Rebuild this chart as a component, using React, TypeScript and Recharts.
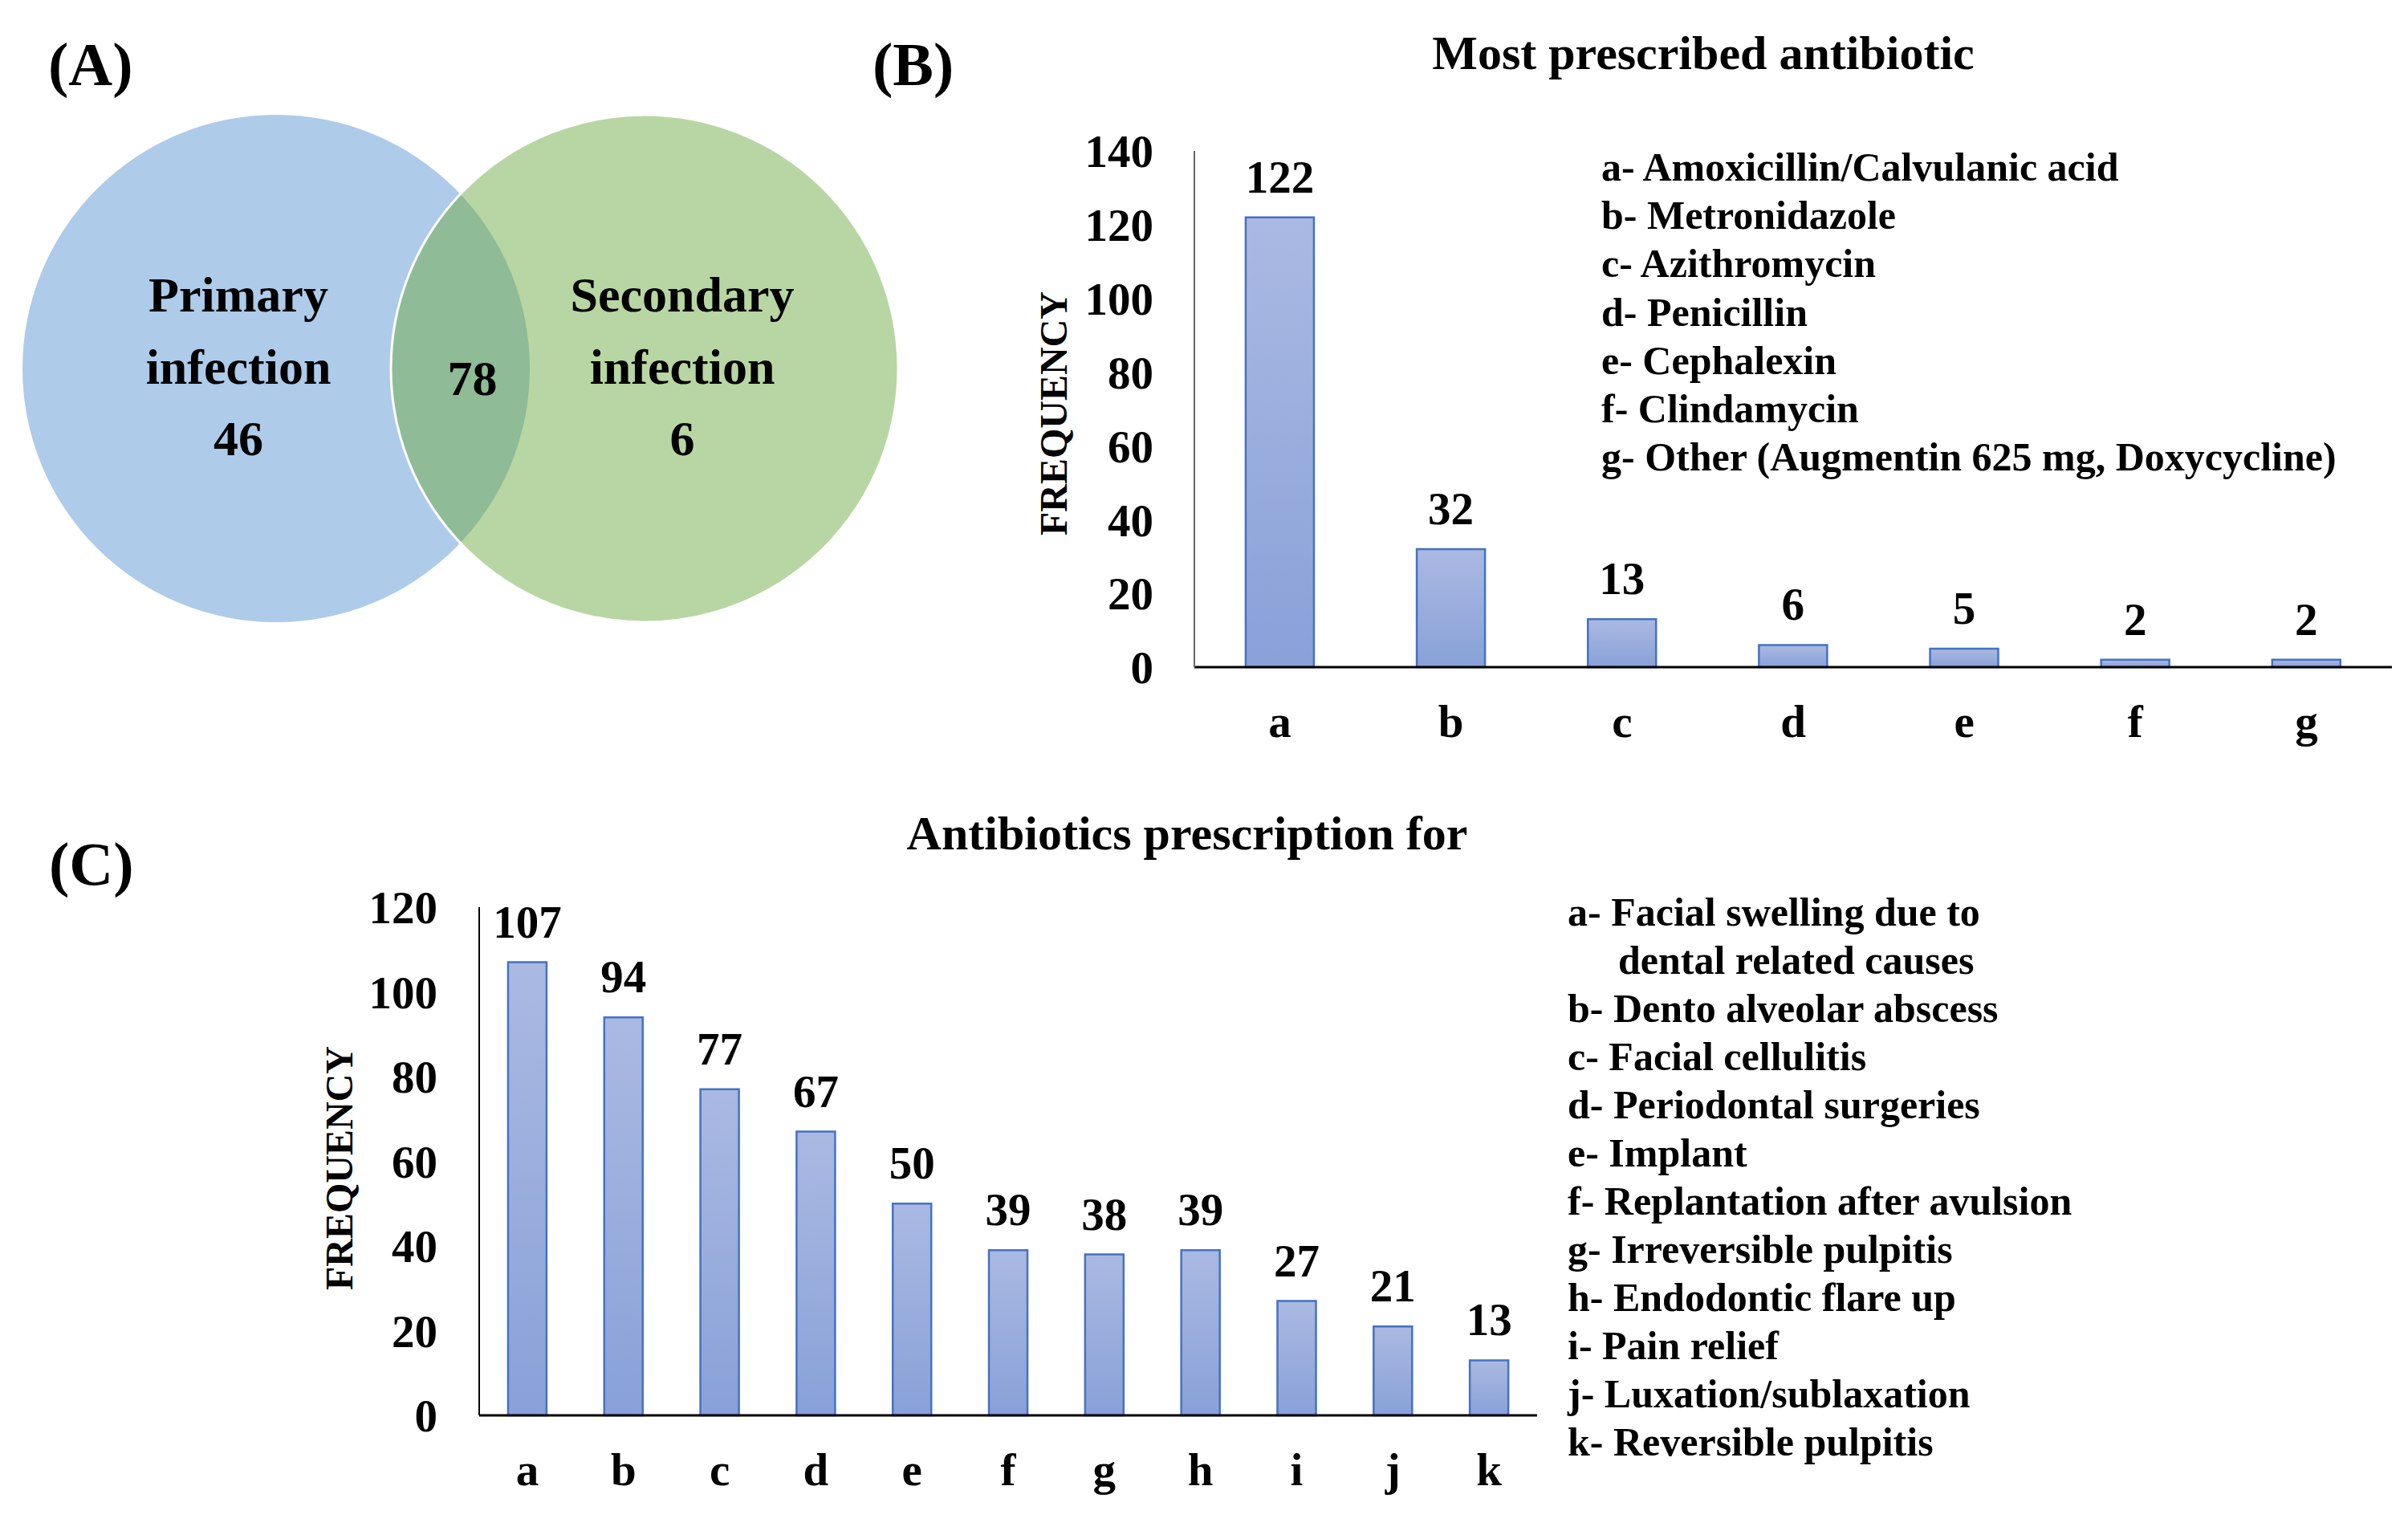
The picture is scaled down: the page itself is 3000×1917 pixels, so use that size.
import React from 'react';
import { BarChart, Bar, XAxis, YAxis, LabelList, ScatterChart, Scatter } from 'recharts';

const FONT = '"Liberation Serif", "Times New Roman", Times, serif';

// ---- Panel A data (Venn) ----
const vennSetNames: string[][] = [['Primary', 'infection'], ['Secondary', 'infection']];
const vennOnlyCounts = [46, 6];
const vennOverlapCount = 78;

// ---- Panel B data ----
const antibioticCats = ['a', 'b', 'c', 'd', 'e', 'f', 'g'];
const antibioticCounts = [122, 32, 13, 6, 5, 2, 2];
const antibioticNames = [
  'Amoxicillin/Calvulanic acid',
  'Metronidazole',
  'Azithromycin',
  'Penicillin',
  'Cephalexin',
  'Clindamycin',
  'Other (Augmentin 625 mg, Doxycycline)',
];
const antibioticTicks = [0, 20, 40, 60, 80, 100, 120, 140];

// ---- Panel C data ----
const reasonCats = ['a', 'b', 'c', 'd', 'e', 'f', 'g', 'h', 'i', 'j', 'k'];
const reasonCounts = [107, 94, 77, 67, 50, 39, 38, 39, 27, 21, 13];
const reasonNames = [
  'Facial swelling due to\ndental related causes',
  'Dento alveolar abscess',
  'Facial cellulitis',
  'Periodontal surgeries',
  'Implant',
  'Replantation after avulsion',
  'Irreversible pulpitis',
  'Endodontic flare up',
  'Pain relief',
  'Luxation/sublaxation',
  'Reversible pulpitis',
];
const reasonTicks = [0, 20, 40, 60, 80, 100, 120];

const antibioticData = antibioticCats.map((c, i) => ({ cat: c, value: antibioticCounts[i] }));
const reasonData = reasonCats.map((c, i) => ({ cat: c, value: reasonCounts[i] }));

// Venn layout (pixels in the venn chart)
const VENN_W = 1150;
const VENN_H = 800;
const VENN_R = 316;
const VENN_CX = [344, 803];
const VENN_CY = 459;
const VENN_TEXT_DX = [-47, 47];
const vennData = vennSetNames.map((n, i) => ({ x: VENN_CX[i], y: VENN_CY, names: n, count: vennOnlyCounts[i], idx: i }));

const BLUE = '#AECBE9';
const GREEN = '#B8D6A3';
const LENS = '#8FBB96';

const VennShape = (props: any) => {
  const { cx, cy, payload } = props;
  const i = payload.idx;
  const tx = cx + VENN_TEXT_DX[i];
  const textProps = { fontFamily: FONT, fontWeight: 700, fontSize: 62, fill: '#000', textAnchor: 'middle' as const };
  if (i === 0) {
    return (
      <g>
        <defs>
          <clipPath id="vennClipA">
            <circle cx={cx} cy={cy} r={VENN_R} />
          </clipPath>
        </defs>
        <circle cx={cx} cy={cy} r={VENN_R} fill={BLUE} />
        <text x={tx} y={cy - 71} {...textProps}>{payload.names[0]}</text>
        <text x={tx} y={cy + 19} {...textProps}>{payload.names[1]}</text>
        <text x={tx} y={cy + 108} {...textProps}>{payload.count}</text>
      </g>
    );
  }
  const midX = (VENN_CX[0] + VENN_CX[1]) / 2;
  return (
    <g>
      <circle cx={cx} cy={cy} r={VENN_R} fill={GREEN} />
      <circle cx={cx} cy={cy} r={VENN_R} fill={LENS} clipPath="url(#vennClipA)" />
      <circle cx={cx} cy={cy} r={VENN_R} fill="none" stroke="#fff" strokeWidth={3} />
      <text x={midX + 15} y={cy + 33} {...textProps}>{vennOverlapCount}</text>
      <text x={tx} y={cy - 71} {...textProps}>{payload.names[0]}</text>
      <text x={tx} y={cy + 19} {...textProps}>{payload.names[1]}</text>
      <text x={tx} y={cy + 108} {...textProps}>{payload.count}</text>
    </g>
  );
};

const tickStyle = { fill: '#000', fontSize: 57, fontFamily: FONT, fontWeight: 700 };
const labelStyle = { fill: '#000', fontSize: 57, fontFamily: FONT, fontWeight: 700 };

const panelLabel = (text: string, left: number, top: number) => (
  <div style={{ position: 'absolute', left, top, fontSize: 76, lineHeight: '76px', fontWeight: 700, fontFamily: FONT, whiteSpace: 'pre' }}>
    {text}
  </div>
);

const title = (text: string, centerX: number, top: number) => (
  <div style={{ position: 'absolute', left: centerX - 600, top, width: 1200, textAlign: 'center', fontSize: 60, lineHeight: '60px', fontWeight: 700, fontFamily: FONT, whiteSpace: 'pre' }}>
    {text}
  </div>
);

const freqLabel = (cx: number, cy: number) => (
  <div style={{ position: 'absolute', left: cx - 250, top: cy - 30, width: 500, height: 60, lineHeight: '60px', textAlign: 'center', fontSize: 48, fontWeight: 700, fontFamily: FONT, transform: 'rotate(-90deg)', whiteSpace: 'pre' }}>
    FREQUENCY
  </div>
);

export default function App() {
  return (
    <div style={{ position: 'absolute', left: 0, top: 0, width: 3000, height: 1917, background: '#fff', overflow: 'hidden', fontFamily: FONT }}>
      {/* Panel A */}
      <div style={{ position: 'absolute', left: 0, top: 0 }}>
        <ScatterChart width={VENN_W} height={VENN_H} margin={{ top: 0, right: 0, bottom: 0, left: 0 }}>
          <XAxis type="number" dataKey="x" domain={[0, VENN_W]} hide />
          <YAxis type="number" dataKey="y" domain={[0, VENN_H]} reversed hide />
          <Scatter data={vennData} shape={<VennShape />} isAnimationActive={false} />
        </ScatterChart>
      </div>
      {panelLabel('(A)', 60, 42)}

      {/* Panel B */}
      {panelLabel('(B)', 1087, 42)}
      {title('Most prescribed antibiotic', 2122, 36)}
      <div style={{ position: 'absolute', left: 1250, top: 0 }}>
        <BarChart width={1750} height={950} data={antibioticData} margin={{ top: 188, right: 20, bottom: 89, left: 0 }} barCategoryGap="30%">
          <defs>
            <linearGradient id="barGradB" x1="0" y1="0" x2="0" y2="1">
              <stop offset="0" stopColor="#AAB9E2" />
              <stop offset="1" stopColor="#89A1D8" />
            </linearGradient>
          </defs>
          <XAxis dataKey="cat" height={30} interval={0} tickLine={false} tickSize={0} tickMargin={47} axisLine={{ stroke: '#000', strokeWidth: 3 }} tick={tickStyle} />
          <YAxis domain={[0, 140]} ticks={antibioticTicks} interval={0} width={238} tickLine={false} tickSize={0} tickMargin={51} axisLine={{ stroke: '#666', strokeWidth: 2 }} tick={tickStyle} />
          <Bar dataKey="value" fill="url(#barGradB)" stroke="#4472C4" strokeWidth={2.5} isAnimationActive={false}>
            <LabelList dataKey="value" position="top" offset={31} style={labelStyle} />
          </Bar>
        </BarChart>
      </div>
      {freqLabel(1313, 515)}
      <div style={{ position: 'absolute', left: 1995, top: 178, fontSize: 50, lineHeight: '60.2px', fontWeight: 700, fontFamily: FONT, whiteSpace: 'pre' }}>
        {antibioticCats.map((c, i) => (
          <div key={c}>{`${c}- ${antibioticNames[i]}`}</div>
        ))}
      </div>

      {/* Panel C */}
      {panelLabel('(C)', 61, 1038)}
      {title('Antibiotics prescription for', 1479, 1008)}
      <div style={{ position: 'absolute', left: 0, top: 980 }}>
        <BarChart width={1950} height={937} data={reasonData} margin={{ top: 150, right: 35, bottom: 124, left: 0 }} barCategoryGap="30%">
          <defs>
            <linearGradient id="barGradC" x1="0" y1="0" x2="0" y2="1">
              <stop offset="0" stopColor="#AAB9E2" />
              <stop offset="1" stopColor="#89A1D8" />
            </linearGradient>
          </defs>
          <XAxis dataKey="cat" height={30} interval={0} tickLine={false} tickSize={0} tickMargin={47} axisLine={{ stroke: '#000', strokeWidth: 3 }} tick={tickStyle} />
          <YAxis domain={[0, 120]} ticks={reasonTicks} interval={0} width={597} tickLine={false} tickSize={0} tickMargin={52} axisLine={{ stroke: '#000', strokeWidth: 2 }} tick={tickStyle} />
          <Bar dataKey="value" fill="url(#barGradC)" stroke="#4472C4" strokeWidth={2.5} isAnimationActive={false}>
            <LabelList dataKey="value" position="top" offset={31} style={labelStyle} />
          </Bar>
        </BarChart>
      </div>
      {freqLabel(423, 1455)}
      <div style={{ position: 'absolute', left: 1953, top: 1106, fontSize: 50, lineHeight: '60px', fontWeight: 700, fontFamily: FONT, whiteSpace: 'pre' }}>
        {reasonCats.map((c, i) => {
          const parts = reasonNames[i].split('\n');
          return (
            <React.Fragment key={c}>
              <div>{`${c}- ${parts[0]}`}</div>
              {parts.slice(1).map((p, j) => (
                <div key={j} style={{ paddingLeft: 63 }}>{p}</div>
              ))}
            </React.Fragment>
          );
        })}
      </div>
    </div>
  );
}
